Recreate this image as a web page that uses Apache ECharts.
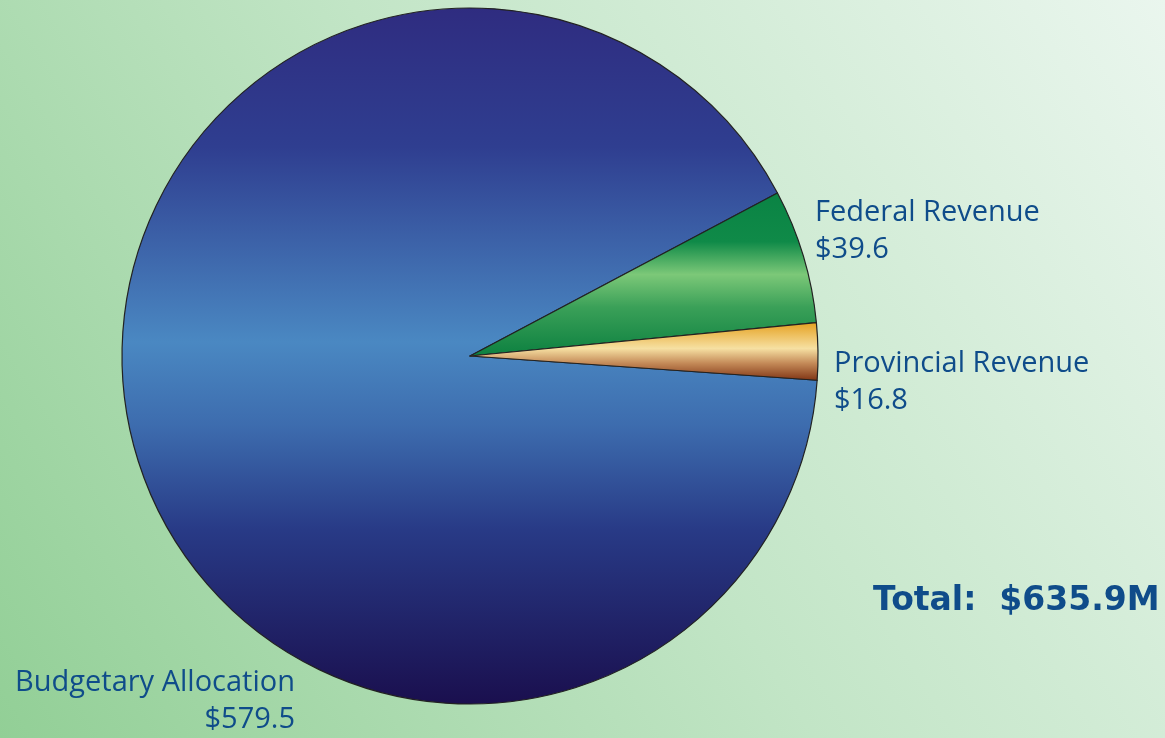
<!DOCTYPE html>
<html>
<head>
<meta charset="utf-8">
<script src="https://cdn.jsdelivr.net/npm/echarts@6/dist/echarts.min.js"></script>
<style>
html,body{margin:0;padding:0;width:100%;height:100%;overflow:hidden;}
#main{width:1165px;height:738px;}
</style>
</head>
<body>
<div id="main"></div>
<script>
var categories = ['Budgetary Allocation', 'Federal Revenue', 'Provincial Revenue'];
var values = [579.5, 39.6, 16.8];
var totalLabel = 'Total:  $635.9M';

function vgrad(stops) {
  return new echarts.graphic.LinearGradient(0, 0, 0, 1, stops.map(function (s) { return { offset: s[0], color: s[1] }; }));
}
var fills = [
  vgrad([[0, '#2f2c80'], [0.2, '#2f3e90'], [0.48, '#4a88c2'], [0.6, '#3d6cae'], [0.75, '#283a86'], [1, '#1a0f4e']]),
  vgrad([[0, '#0a8344'], [0.3, '#0f8a48'], [0.5, '#7cc878'], [0.7, '#3aa058'], [1, '#0c8040']]),
  vgrad([[0, '#e5a01e'], [0.45, '#f6e0a2'], [0.7, '#c48a58'], [1, '#7e3212']])
];
var labelPos = [
  { x: 295, y: 701, align: 'right' },
  { x: 815, y: 231, align: 'left' },
  { x: 834, y: 382, align: 'left' }
];

var chart = echarts.init(document.getElementById('main'));
chart.setOption({
  backgroundColor: new echarts.graphic.LinearGradient(0, 1, 1, 0, [
    { offset: 0, color: '#92cf96' },
    { offset: 0.5, color: '#c2e5c6' },
    { offset: 1, color: '#eaf6ee' }
  ]),
  animation: false,
  graphic: [{
    type: 'text',
    left: 873,
    top: 585,
    style: { text: totalLabel, font: 'bold 33px "DejaVu Sans"', fill: '#0f4c8a' }
  }],
  series: [{
    type: 'pie',
    center: [470, 356],
    radius: [0, 348],
    startAngle: -4,
    clockwise: true,
    data: categories.map(function (c, i) {
      return { name: c, value: values[i], itemStyle: { color: fills[i] } };
    }),
    itemStyle: { borderColor: '#222', borderWidth: 1.2 },
    label: {
      show: true,
      formatter: function (p) { return p.name + '\n$' + p.value.toFixed(1); },
      fontFamily: 'Open Sans',
      fontSize: 29,
      lineHeight: 37,
      color: '#0f4c8a',
      overflow: 'none',
      width: 400
    },
    labelLine: { show: false },
    labelLayout: function (p) {
      var l = labelPos[p.dataIndex];
      return { x: l.x, y: l.y, align: l.align, verticalAlign: 'middle' };
    },
    emphasis: { disabled: true }
  }]
});
</script>
</body>
</html>
